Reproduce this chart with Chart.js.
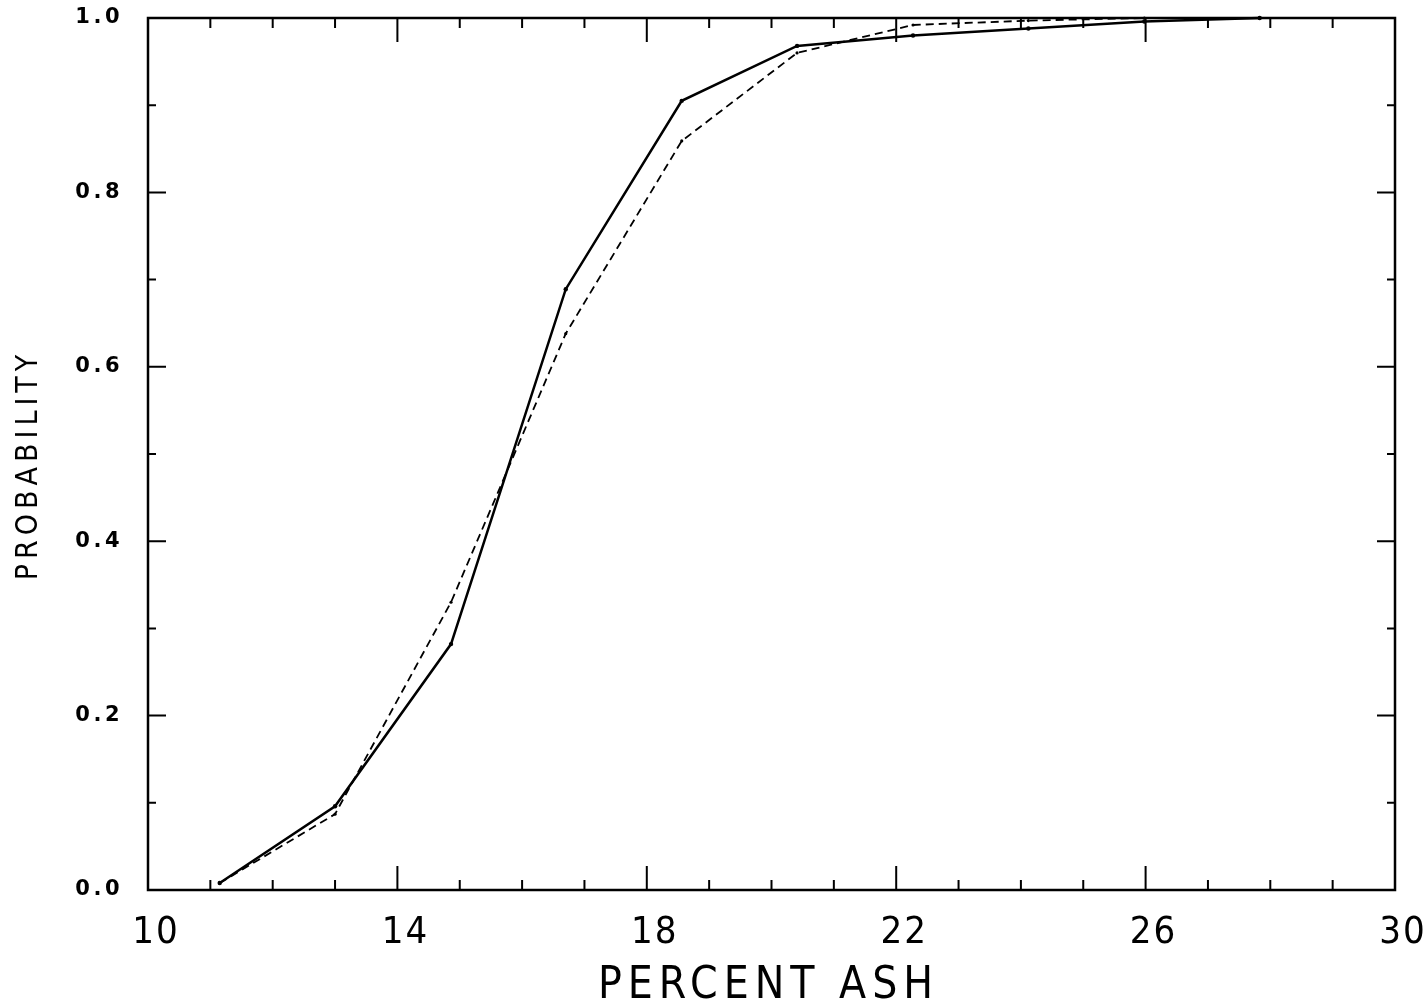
<!DOCTYPE html>
<html><head><meta charset="utf-8">
<script src="https://cdn.jsdelivr.net/npm/chart.js@4/dist/chart.umd.min.js"></script>
<style>html,body{margin:0;padding:0;background:#fff;}canvas{display:block;}</style>
</head><body>
<canvas id="c" width="1426" height="1006"></canvas>
<script>
const percentAsh = [11.15, 13.0, 14.86, 16.70, 18.56, 20.41, 22.27, 24.12, 25.98, 27.83];
const probSolid  = [0.008, 0.096, 0.282, 0.689, 0.905, 0.968, 0.980, 0.988, 0.996, 1.0];
const probDashed = [0.008, 0.087, 0.330, 0.638, 0.859, 0.960, 0.992, 0.997, 1.0, 1.0];
const xMajorTicks = [10, 14, 18, 22, 26, 30];
const xMinorTicks = [11, 12, 13, 15, 16, 17, 19, 20, 21, 23, 24, 25, 27, 28, 29];
const yMajorTicks = [0, 0.2, 0.4, 0.6, 0.8, 1.0];
const yMinorTicks = [0.1, 0.3, 0.5, 0.7, 0.9];
const xTitle = 'PERCENT ASH';
const yTitle = 'PROBABILITY';

const NARROW = "'Liberation Sans Narrow', 'DejaVu Sans Condensed', 'Liberation Sans', sans-serif";

const spacingPlugin = {
  id: 'spacing',
  beforeLayout(chart) {
    Object.values(chart.scales).forEach(s => {
      if (s._patched) return;
      s._patched = true;
      const cfg = s.id === 'x' ? {lab: 2, tit: 6, dx: -3, dy: 3} : {lab: 3.5, tit: 5, dx: 2, dy: 11};
      const dl = s.drawLabels.bind(s), dt = s.drawTitle.bind(s);
      s.drawLabels = function (a) { const c = chart.ctx; c.save(); c.letterSpacing = cfg.lab + 'px'; dl(a); c.restore(); };
      s.drawTitle = function (a) { const c = chart.ctx; c.save(); c.letterSpacing = cfg.tit + 'px'; c.translate(cfg.dx, cfg.dy); dt(a); c.restore(); };
    });
  }
};

const framePlugin = {
  id: 'frame',
  afterDatasetsDraw(chart) {
    const {ctx, chartArea: a, scales: {x, y}} = chart;
    ctx.save();
    ctx.strokeStyle = '#000';
    ctx.lineWidth = 2.5;
    ctx.strokeRect(a.left, a.top, a.right - a.left, a.bottom - a.top);
    ctx.lineWidth = 2;
    ctx.beginPath();
    const tx = (v, len) => { const p = x.getPixelForValue(v); ctx.moveTo(p, a.bottom); ctx.lineTo(p, a.bottom - len); ctx.moveTo(p, a.top); ctx.lineTo(p, a.top + len); };
    const ty = (v, len) => { const p = y.getPixelForValue(v); ctx.moveTo(a.left, p); ctx.lineTo(a.left + len, p); ctx.moveTo(a.right, p); ctx.lineTo(a.right - len, p); };
    xMajorTicks.forEach(v => tx(v, 24));
    xMinorTicks.forEach(v => tx(v, 10));
    yMajorTicks.forEach(v => ty(v, 18));
    yMinorTicks.forEach(v => ty(v, 8));
    ctx.stroke();
    ctx.restore();
  }
};

new Chart(document.getElementById('c').getContext('2d'), {
  type: 'scatter',
  data: {
    datasets: [
      {
        data: percentAsh.map((v, i) => ({x: v, y: probSolid[i]})),
        showLine: true, borderColor: '#000', backgroundColor: '#000',
        borderWidth: 2.5, pointRadius: 2.2, pointBorderWidth: 0, tension: 0, clip: false
      },
      {
        data: percentAsh.map((v, i) => ({x: v, y: probDashed[i]})),
        showLine: true, borderColor: '#000', backgroundColor: '#000',
        borderWidth: 1.8, borderDash: [8, 5], pointRadius: 1.6, pointBorderWidth: 0, tension: 0, clip: false
      }
    ]
  },
  options: {
    responsive: false, animation: false, devicePixelRatio: 1,
    layout: {padding: {top: 18, right: 31, left: 0, bottom: 0}},
    plugins: {legend: {display: false}, tooltip: {enabled: false}},
    scales: {
      x: {
        type: 'linear', min: 10, max: 30,
        afterFit(s) { s.height = 116; s.paddingLeft = 0; s.paddingRight = 0; },
        afterBuildTicks(s) { s.ticks = xMajorTicks.map(v => ({value: v})); },
        grid: {display: false, drawTicks: false},
        border: {display: false},
        ticks: {color: '#000', padding: 20, labelOffset: 8, maxRotation: 0, autoSkip: false,
                font: {family: NARROW, size: 38}},
        title: {display: true, text: xTitle, color: '#000', padding: 0,
                font: {family: NARROW, size: 44, lineHeight: 1}}
      },
      y: {
        type: 'linear', min: 0, max: 1,
        afterFit(s) { s.width = 148; s.paddingTop = 0; s.paddingBottom = 0; },
        afterBuildTicks(s) { s.ticks = yMajorTicks.map(v => ({value: v})); },
        grid: {display: false, drawTicks: false},
        border: {display: false},
        ticks: {color: '#000', padding: 25, autoSkip: false,
                callback: v => Number(v).toFixed(1),
                font: {family: "'DejaVu Sans', sans-serif", size: 21, weight: 'bold'}},
        title: {display: true, text: yTitle, color: '#000', padding: {top: 12, bottom: 0},
                font: {family: NARROW, size: 30, lineHeight: 1}}
      }
    }
  },
  plugins: [spacingPlugin, framePlugin]
});
</script>
</body></html>
